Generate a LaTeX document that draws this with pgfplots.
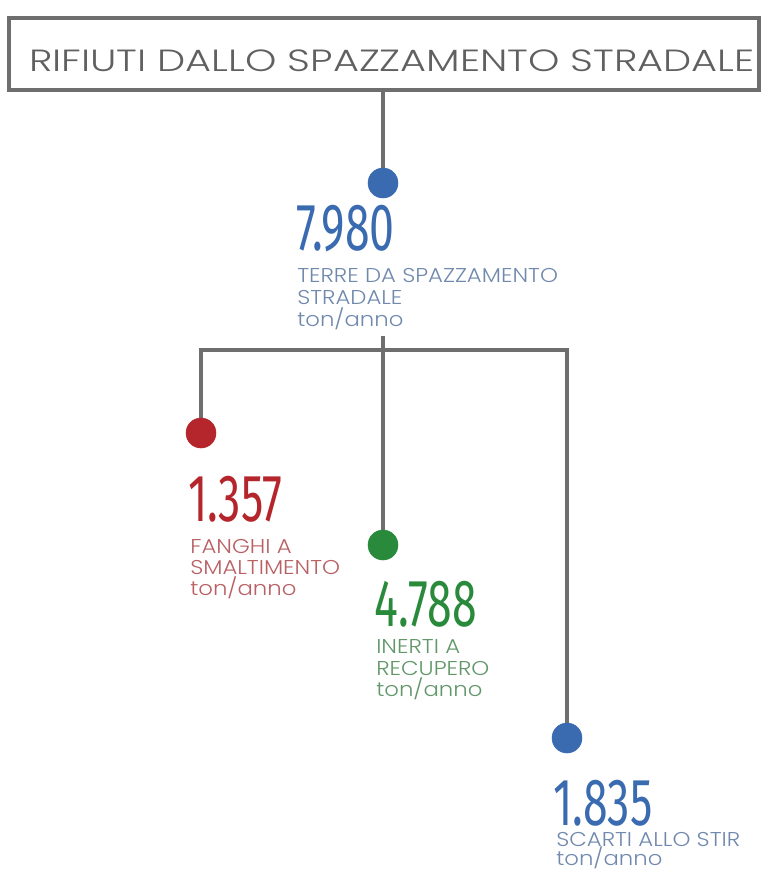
\documentclass[border=0pt]{standalone}
\usepackage{pgfplots}
\pgfplotsset{compat=1.18}
\usepackage{fontspec}
\setmainfont{Poppins Light}
\newfontfamily\titlefont{Poppins Light}[FakeStretch=1.30]
\newfontfamily\labfont{Poppins Light}[FakeStretch=1.14]
\newfontfamily\numfont{Fira Sans}[FakeStretch=0.67]
\definecolor{lineg}{HTML}{6E6E6E}
\definecolor{titleg}{HTML}{606060}
\definecolor{cblue}{HTML}{3A6AB0}
\definecolor{cred}{HTML}{B4262C}
\definecolor{cgreen}{HTML}{2A8A3C}
\definecolor{lblue}{HTML}{7089AD}
\definecolor{lred}{HTML}{B86064}
\definecolor{lgreen}{HTML}{62976A}
\newcommand{\num}[2]{\textcolor{#1}{\numfont\fontsize{50}{50}\selectfont #2}}
\tikzset{
  lab/.style={anchor=base west, inner sep=0pt, font=\labfont\fontsize{15}{15}\selectfont},
  nm/.style={anchor=base west, inner sep=0pt},
}
\begin{document}
\begin{tikzpicture}
\begin{axis}[
  width=574.5pt, height=654pt, scale only axis,
  xmin=0, xmax=766, ymin=0, ymax=872, y dir=reverse,
  hide axis, clip=false,
]
\path (rel axis cs:0,0) rectangle (rel axis cs:1,1);
% title box
\addplot[lineg, line width=2.6pt, no marks] coordinates {(9,18) (759,18) (759,90) (9,90)} -- cycle;
\node[anchor=base west, inner sep=0pt, text=titleg, font=\titlefont\fontsize{23}{23}\selectfont] at (axis cs:29,71) {RIFIUTI DALLO SPAZZAMENTO STRADALE};
% connector lines
\addplot[lineg, line width=2.4pt, no marks] coordinates {(383,90) (383,183)};
\addplot[lineg, line width=2.4pt, no marks] coordinates {(383,336) (383,545)};
\addplot[lineg, line width=2.4pt, no marks] coordinates {(201,433) (201,350) (567,350) (567,738)};
% nodes
\addplot[only marks, mark=*, mark size=11.25pt, mark options={draw=cblue, fill=cblue}] coordinates {(383,183) (567,738)};
\addplot[only marks, mark=*, mark size=11.25pt, mark options={draw=cred, fill=cred}] coordinates {(201,433)};
\addplot[only marks, mark=*, mark size=11.25pt, mark options={draw=cgreen, fill=cgreen}] coordinates {(383,545)};
% texts: top blue
\node[nm] at (axis cs:296,250) {\num{cblue}{7.980}};
\node[lab, text=lblue] at (axis cs:297,282) {TERRE DA SPAZZAMENTO};
\node[lab, text=lblue] at (axis cs:297,304) {STRADALE};
\node[lab, text=lblue] at (axis cs:297,326) {ton/anno};
% red
\node[nm] at (axis cs:188,521) {\num{cred}{1.357}};
\node[lab, text=lred] at (axis cs:190,553) {FANGHI A};
\node[lab, text=lred] at (axis cs:190,574) {SMALTIMENTO};
\node[lab, text=lred] at (axis cs:190,595) {ton/anno};
% green
\node[nm] at (axis cs:374,626) {\num{cgreen}{4.788}};
\node[lab, text=lgreen] at (axis cs:376,653) {INERTI A};
\node[lab, text=lgreen] at (axis cs:376,675) {RECUPERO};
\node[lab, text=lgreen] at (axis cs:376,696) {ton/anno};
% bottom blue
\node[nm] at (axis cs:553,825) {\num{cblue}{1.835}};
\node[lab, text=lblue] at (axis cs:556,846) {SCARTI ALLO STIR};
\node[lab, text=lblue] at (axis cs:556,865) {ton/anno};
\end{axis}
\end{tikzpicture}
\end{document}
